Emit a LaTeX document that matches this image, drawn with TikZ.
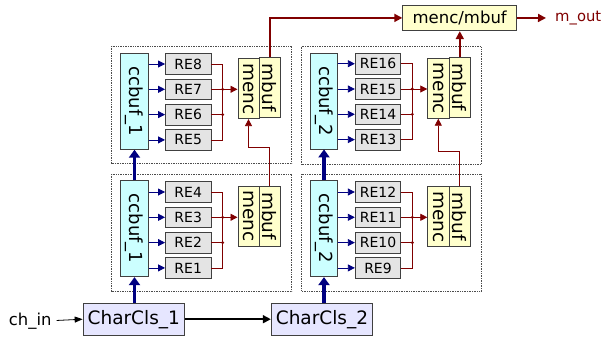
\documentclass[tikz,border=0pt]{standalone}
\usepackage{fontspec}
\setmainfont{DejaVu Sans}
\usepackage{graphicx}
\usetikzlibrary{arrows.meta,calc}
\definecolor{cbfill}{HTML}{CCFFFF}
\definecolor{refill}{HTML}{E4E4E4}
\definecolor{mfill}{HTML}{FFFFCC}
\definecolor{ccfill}{HTML}{E6E6FF}
\definecolor{navyb}{HTML}{000080}
\definecolor{dred}{HTML}{800000}
\begin{document}
\begin{tikzpicture}[x=1pt,y=-1pt,
 box/.style={draw=black!75, line width=0.8pt, inner sep=0pt, anchor=center},
 ccbox/.style={box, fill=cbfill, minimum width=27.6pt, minimum height=96pt, font=\fontsize{18}{18}\selectfont},
 rebox/.style={box, fill=refill, minimum width=45.5pt, minimum height=20.6pt, font=\fontsize{14}{14}\selectfont},
 mbox/.style={box, fill=mfill, minimum width=21.2pt, minimum height=60pt, font=\fontsize{18.5}{18.5}\selectfont},
 clsbox/.style={box, fill=ccfill, minimum width=101.5pt, minimum height=31.7pt, font=\fontsize{18.5}{18.5}\selectfont},
 grp/.style={draw=black!70, densely dotted, line width=0.7pt},
 thinb/.style={draw=navyb, line width=0.8pt, -{Triangle[length=7pt,width=7pt]}},
 thickb/.style={draw=navyb, line width=3.5pt, -{Triangle[length=8pt,width=11pt]}},
 redthin/.style={draw=dred, line width=0.8pt},
 redarr/.style={draw=dred, line width=0.8pt, -{Triangle[length=7pt,width=7pt]}},
 redthick/.style={draw=dred, line width=1.8pt, -{Triangle[length=8pt,width=8pt]}},
 jdot/.style={fill=dred},
]
\useasboundingbox (0,0) rectangle (603,341);

% dotted group frames
\draw[grp] (111.7,46) rectangle (291.7,163.5);
\draw[grp] (111.7,174) rectangle (291.7,291.5);
\draw[grp] (301.7,46.7) rectangle (481,164.3);
\draw[grp] (301.7,174) rectangle (481.7,291);

% ---------- left upper ----------
\node[ccbox] (cbLU) at (134.5,101.3) {\rotatebox{-90}{ccbuf\_1}};
\node[rebox] (re8) at (188.2,64) {RE8};
\node[rebox] (re7) at (188.2,89.3) {RE7};
\node[rebox] (re6) at (188.2,114.6) {RE6};
\node[rebox] (re5) at (188.2,139.9) {RE5};
\node[mbox] (meLU) at (248.5,88.7) {\rotatebox{-90}{menc}};
\node[mbox] (mbLU) at (269.7,87.7) {\rotatebox{-90}{mbuf}};
\coordinate (jLU) at (222.7,0);

% ---------- left lower ----------
\node[ccbox] (cbLL) at (134.5,228.7) {\rotatebox{-90}{ccbuf\_1}};
\node[rebox] (re4) at (188.2,192) {RE4};
\node[rebox] (re3) at (188.2,217.3) {RE3};
\node[rebox] (re2) at (188.2,242.6) {RE2};
\node[rebox] (re1) at (188.2,267.9) {RE1};
\node[mbox] (meLL) at (248.5,216) {\rotatebox{-90}{menc}};
\node[mbox] (mbLL) at (269.7,216) {\rotatebox{-90}{mbuf}};
\coordinate (jLL) at (222.7,0);

% ---------- right upper ----------
\node[ccbox] (cbRU) at (324,101) {\rotatebox{-90}{ccbuf\_2}};
\node[rebox] (re16) at (378,63.7) {RE16};
\node[rebox] (re15) at (378,89) {RE15};
\node[rebox] (re14) at (378,114.3) {RE14};
\node[rebox] (re13) at (378,139.6) {RE13};
\node[mbox] (meRU) at (438.3,88.3) {\rotatebox{-90}{menc}};
\node[mbox] (mbRU) at (459.8,87.3) {\rotatebox{-90}{mbuf}};
\coordinate (jRU) at (412.3,0);

% ---------- right lower ----------
\node[ccbox] (cbRL) at (324,228.7) {\rotatebox{-90}{ccbuf\_2}};
\node[rebox] (re12) at (378,192) {RE12};
\node[rebox] (re11) at (378,217.3) {RE11};
\node[rebox] (re10) at (378,242.6) {RE10};
\node[rebox] (re9) at (378,267.9) {RE9};
\node[mbox] (meRL) at (438.3,216.7) {\rotatebox{-90}{menc}};
\node[mbox] (mbRL) at (459.8,216.7) {\rotatebox{-90}{mbuf}};
\coordinate (jRL) at (412.3,0);

% ---------- top and bottom ----------
\node[box, fill=mfill, minimum width=114pt, minimum height=25.7pt, font=\fontsize{16.5}{16.5}\selectfont] (top) at (459.7,17.9) {menc/mbuf};
\node[anchor=west, inner sep=0pt, text=dred, font=\fontsize{14.8}{14.8}\selectfont] (mout) at (555,18) {m\_out};
\node[clsbox] (cls1) at (133.8,319.2) {CharCls\_1};
\node[clsbox] (cls2) at (322,319.2) {CharCls\_2};
\node[anchor=east, inner sep=0pt, font=\fontsize{16.4}{16.4}\selectfont] (chin) at (51.7,320.7) {ch\_in};

% ---------- blue fan-out arrows ----------
\foreach \c/\r in {cbLU/re8,cbLU/re7,cbLU/re6,cbLU/re5,cbLL/re4,cbLL/re3,cbLL/re2,cbLL/re1,
                   cbRU/re16,cbRU/re15,cbRU/re14,cbRU/re13,cbRL/re12,cbRL/re11,cbRL/re10,cbRL/re9}
  \draw[thinb] (\r.west -| \c.east) -- (\r.west);

% ---------- red merge lines ----------
\foreach \a/\b/\cc/\d/\j/\m in {re8/re7/re6/re5/jLU/meLU, re4/re3/re2/re1/jLL/meLL,
                              re16/re15/re14/re13/jRU/meRU, re12/re11/re10/re9/jRL/meRL}{
  \draw[redthin] (\a.east) -- (\a.east -| \j) -- (\d.east -| \j) -- (\d.east);
  \draw[redthin] (\cc.east) -- (\cc.east -| \j);
  \draw[redarr] (\b.east) -- (\b.east -| \m.west);
  \fill[jdot] (\b.east -| \j) circle (1.6pt);
  \fill[jdot] (\cc.east -| \j) circle (1.6pt);
}

% ---------- lower mbuf to upper menc ----------
\draw[redarr] (mbLL.north) -- ++(0,-38.7) -| (meLU.south);
\draw[redarr] (mbRL.north) -- ++(0,-35) -| (meRU.south);

% ---------- to final menc/mbuf ----------
\draw[redthick] (mbLU.north) |- (top.west);
\draw[redthick] (mbRU.north) -- (mbRU.north |- top.south);
\draw[redthick, shorten >=9pt] (top.east) -- (mout.west);

% ---------- thick blue up arrows ----------
\draw[thickb] (cls1.north -| cbLL) -- (cbLL.south);
\draw[thickb] (cbLL.north) -- (cbLU.south);
\draw[thickb] (cls2.north -| cbRL) -- (cbRL.south);
\draw[thickb] (cbRL.north) -- (cbRU.south);

% ---------- bottom chain ----------
\draw[line width=0.8pt, -{Triangle[length=8pt,width=6pt]}, shorten <=5pt] (chin.east) -- (cls1.west);
\draw[line width=1.6pt, -{Triangle[length=8pt,width=8pt]}] (cls1.east) -- (cls2.west);
\end{tikzpicture}
\end{document}
